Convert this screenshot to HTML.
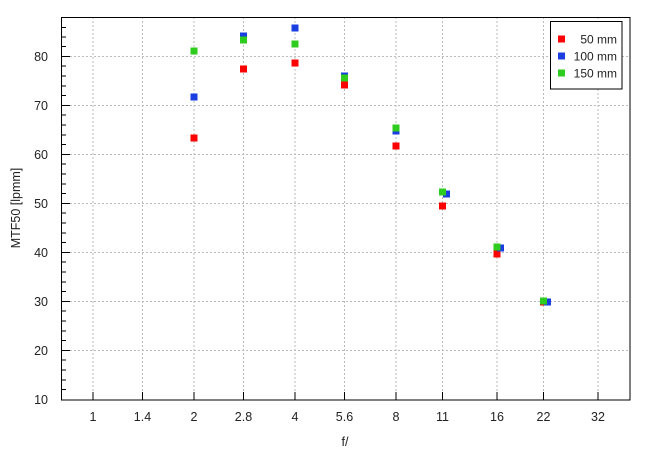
<!DOCTYPE html>
<html><head><style>body{margin:0;background:#fff}svg{display:block;font-family:"Liberation Sans",sans-serif}</style></head><body>
<svg width="655" height="455" viewBox="0 0 655 455">
<rect width="655" height="455" fill="#fff"/>
<g stroke="#bbb" stroke-dasharray="2,2" stroke-width="1">
<line x1="93" y1="17" x2="93" y2="400"/><line x1="142.5" y1="17" x2="142.5" y2="400"/><line x1="194" y1="17" x2="194" y2="400"/><line x1="243.5" y1="17" x2="243.5" y2="400"/><line x1="295" y1="17" x2="295" y2="400"/><line x1="344.5" y1="17" x2="344.5" y2="400"/><line x1="396" y1="17" x2="396" y2="400"/><line x1="442.5" y1="17" x2="442.5" y2="400"/><line x1="497" y1="17" x2="497" y2="400"/><line x1="543.5" y1="17" x2="543.5" y2="400"/><line x1="598" y1="17" x2="598" y2="400"/>
<line x1="62" y1="56.5" x2="630" y2="56.5"/><line x1="62" y1="105.5" x2="630" y2="105.5"/><line x1="62" y1="154.5" x2="630" y2="154.5"/><line x1="62" y1="203.5" x2="630" y2="203.5"/><line x1="62" y1="252.5" x2="630" y2="252.5"/><line x1="62" y1="301.5" x2="630" y2="301.5"/><line x1="62" y1="350.5" x2="630" y2="350.5"/>
</g>
<g stroke="#000" stroke-width="1">
<path d="M62 56.5h8M62 105.5h8M62 154.5h8M62 203.5h8M62 252.5h8M62 301.5h8M62 350.5h8"/>
<path d="M62 27.5h4M62 37h4M62 46.5h4M62 66h4M62 76h4M62 86h4M62 95.5h4M62 115h4M62 125h4M62 135h4M62 144.5h4M62 164h4M62 174h4M62 184h4M62 193.5h4M62 213h4M62 223h4M62 233h4M62 242.5h4M62 262h4M62 272h4M62 282h4M62 291.5h4M62 311h4M62 321h4M62 331h4M62 340.5h4M62 360h4M62 370h4M62 380h4M62 389.5h4"/>
<path d="M93 400v-8M142.5 400v-8M194 400v-8M243.5 400v-8M295 400v-8M344.5 400v-8M396 400v-8M442.5 400v-8M497 400v-8M543.5 400v-8M598 400v-8"/>
<rect x="61.5" y="17.5" width="568.5" height="382.5" fill="none"/>
</g>
<g font-size="12.5" fill="#222" text-anchor="end">
<text x="48" y="61">80</text><text x="48" y="110">70</text><text x="48" y="159">60</text><text x="48" y="208">50</text><text x="48" y="257">40</text><text x="48" y="306">30</text><text x="48" y="355">20</text><text x="48" y="404">10</text>
</g>
<g font-size="12.5" fill="#222" text-anchor="middle">
<text x="93" y="421">1</text><text x="142.5" y="421">1.4</text><text x="194" y="421">2</text><text x="243.5" y="421">2.8</text><text x="295" y="421">4</text><text x="344.5" y="421">5.6</text><text x="396" y="421">8</text><text x="442.5" y="421">11</text><text x="497" y="421">16</text><text x="543.5" y="421">22</text><text x="598" y="421">32</text>
<text x="345" y="446">f/</text>
<text transform="translate(20 208) rotate(-90)">MTF50 [lpmm]</text>
</g>
<g fill="#ff0000">
<rect x="190.5" y="134.5" width="7" height="7"/><rect x="240" y="65.5" width="7" height="7"/><rect x="291.5" y="59.5" width="7" height="7"/><rect x="341" y="81.5" width="7" height="7"/><rect x="392.5" y="142.5" width="7" height="7"/><rect x="439" y="202.5" width="7" height="7"/><rect x="493.5" y="250.5" width="7" height="7"/><rect x="540" y="298.5" width="7" height="7"/>
</g>
<g fill="#1a3ee0">
<rect x="190.5" y="93.5" width="7" height="7"/><rect x="240" y="32.5" width="7" height="7"/><rect x="291.5" y="24.5" width="7" height="7"/><rect x="341" y="72.5" width="7" height="7"/><rect x="392.5" y="127.5" width="7" height="7"/><rect x="443" y="190.5" width="7" height="7"/><rect x="497" y="244.5" width="7" height="7"/><rect x="544" y="298.5" width="7" height="7"/>
</g>
<g fill="#2ecc1e">
<rect x="190.5" y="47.5" width="7" height="7"/><rect x="240" y="36.5" width="7" height="7"/><rect x="291.5" y="40.5" width="7" height="7"/><rect x="341" y="74.5" width="7" height="7"/><rect x="392.5" y="124.5" width="7" height="7"/><rect x="439" y="188.5" width="7" height="7"/><rect x="493.5" y="243.5" width="7" height="7"/><rect x="540" y="297.5" width="7" height="7"/>
</g>
<rect x="550.5" y="21.5" width="71.5" height="67.5" fill="#fff" stroke="#000"/>
<rect x="558" y="35.5" width="7" height="7" fill="#ff0000"/>
<rect x="558" y="52.5" width="7" height="7" fill="#1a3ee0"/>
<rect x="558" y="69.5" width="7" height="7" fill="#2ecc1e"/>
<g font-size="12" fill="#222" text-anchor="end">
<text x="617" y="43.5">50 mm</text><text x="617" y="60.5">100 mm</text><text x="617" y="77.5">150 mm</text>
</g>
</svg>
</body></html>
